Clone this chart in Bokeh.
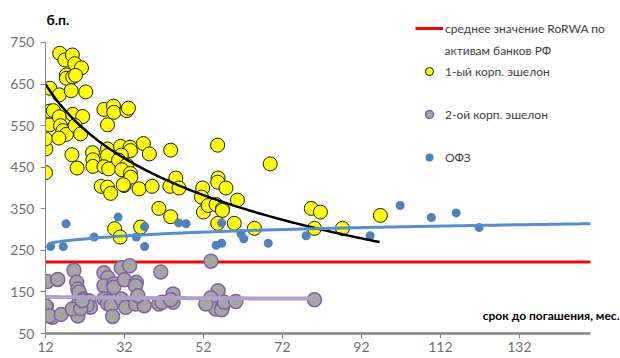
import numpy as np
from bokeh.plotting import figure
from bokeh.models import Range1d, FixedTicker, Legend, LegendItem, Label
from bokeh.embed import file_html
from bokeh.resources import INLINE

# ---- data ----
tier1_x = [12.0, 12.1, 12.0, 13.1, 13.1, 14.0, 13.1, 15.5, 15.5, 15.8, 16.4, 17.3, 15.4,
           15.6, 16.9, 18.8, 19.4, 21.1, 17.3, 17.3, 18.9, 19.6, 18.5, 22.2, 18.9, 21.4,
           19.5, 20.9, 18.7, 20.0, 23.9, 24.0, 24.0, 26.8, 29.2, 29.3, 32.6, 33.0, 27.7,
           27.7, 27.7, 26.8, 28.0, 31.0, 33.4, 33.5, 31.2, 30.5, 32.6, 31.3, 33.5, 26.1,
           27.7, 28.5, 31.9, 33.6, 35.7, 36.8, 38.3, 39.0, 40.7, 43.7, 43.7, 43.5, 45.0,
           45.8, 29.5, 30.9, 36.1, 51.8, 51.5, 52.0, 53.2, 55.2, 56.8, 56.8, 55.6, 55.7,
           55.6, 57.7, 60.6, 55.6, 59.8, 64.9, 68.9, 79.3, 81.6, 80.1, 87.2, 96.8, 31.7]
tier1_y = [437, 494, 518, 552, 585, 586, 640, 624, 571, 550, 538, 529, 520,
           724, 708, 720, 699, 689, 672, 664, 667, 671, 634, 631, 577, 572,
           550, 530, 480, 448, 485, 468, 452, 589, 597, 582, 586, 592, 552,
           494, 478, 451, 446, 500, 498, 490, 479, 467, 455, 444, 435, 404,
           402, 387, 406, 426, 398, 507, 482, 404, 351, 331, 491, 404, 424,
           400, 302, 282, 306, 400, 378, 342, 358, 360, 350, 346, 503, 424,
           414, 400, 371, 315, 315, 303, 458, 351, 342, 303, 303, 334, 408]

tier2_x = [12.4, 15.1, 12.2, 12.0, 13.7, 13.0, 16.0, 19.2, 19.9, 20.2, 20.5, 21.6, 20.2,
           20.2, 18.8, 23.0, 23.4, 26.8, 27.8, 26.8, 29.3, 29.3, 26.8, 27.8, 27.7, 28.6,
           29.0, 31.2, 33.3, 32.0, 31.2, 32.3, 35.0, 34.8, 35.2, 34.8, 37.0, 35.4, 41.2,
           40.7, 41.5, 44.3, 44.3, 43.7, 53.4, 53.9, 55.7, 53.9, 55.1, 55.1, 56.8, 52.6,
           56.6, 57.3, 60.2, 80.1, 22.5, 20.9, 21.3]
tier2_y = [175, 180, 115, 117, 89, 92, 96, 202, 173, 157, 150, 133, 119,
           92, 109, 129, 113, 196, 184, 165, 169, 161, 133, 128, 122, 117,
           91, 208, 213, 179, 133, 113, 173, 165, 137, 121, 117, 141, 198,
           121, 125, 145, 125, 131, 123, 224, 153, 136, 121, 109, 113, 121,
           107, 125, 127, 131, 118, 110, 129]

ofz_x = [13.3, 16.5, 17.2, 24.3, 30.4, 35.0, 37.1, 37.1, 45.7, 47.6, 55.2, 56.6, 56.6,
         61.5, 62.2, 68.4, 78.0, 94.2, 101.8, 109.7, 116.0, 121.8]
ofz_y = [259, 259, 314, 282, 330, 282, 307, 259, 316, 314, 262, 267, 316,
         290, 278, 267, 285, 285, 358, 329, 340, 305]

rorwa_x = [12, 150]
rorwa_y = [222, 222]

# logarithmic trend lines: values read at their two ends
tier1_trend_x = [12, 96.6]
tier1_trend_y = [650, 270]
tier2_trend_x = [12, 80.1]
tier2_trend_y = [138, 134]
ofz_trend_x = [13.3, 150]
ofz_trend_y = [268, 314]

x_ticks = [12, 32, 52, 72, 92, 112, 132]
y_ticks = [50, 150, 250, 350, 450, 550, 650, 750]
x_bounds = (12, 150)
y_bounds = (50, 750)

FONT = "Lato"


def log_curve(xs, ys, n=120):
    b = (ys[1] - ys[0]) / (np.log(xs[1]) - np.log(xs[0]))
    a = ys[0] - b * np.log(xs[0])
    xx = np.linspace(xs[0], xs[1], n)
    return xx, a + b * np.log(xx)


p = figure(width=620, height=358, output_backend="svg", toolbar_location=None,
           x_range=Range1d(12, 157.6), y_range=Range1d(50, 851),
           min_border_left=45, min_border_right=0, min_border_top=0, min_border_bottom=25)
p.outline_line_color = None
p.xgrid.visible = False
p.ygrid.visible = False
p.background_fill_color = "white"
p.border_fill_color = "white"

r_red = p.line(rorwa_x, rorwa_y, line_color="#FF0000", line_width=3)
r_y = p.scatter(tier1_x, tier1_y, marker="circle", size=14, fill_color="#FFFF00",
                line_color="#1a1a1a", line_width=1)
r_g = p.scatter(tier2_x, tier2_y, marker="circle", size=14, fill_color="#A5A5A5",
                line_color="#8064A2", line_width=1.5)
r_b = p.scatter(ofz_x, ofz_y, marker="circle", size=9, fill_color="#4F81BD", line_color=None)

tx, ty = log_curve(tier1_trend_x, tier1_trend_y)
p.line(tx, ty, line_color="black", line_width=2.5)
tx, ty = log_curve(tier2_trend_x, tier2_trend_y)
p.line(tx, ty, line_color="#B3A2C7", line_width=4)
tx, ty = log_curve(ofz_trend_x, ofz_trend_y)
p.line(tx, ty, line_color="#558ED5", line_width=3)

for ax in (p.xaxis[0], p.yaxis[0]):
    ax.axis_line_color = "#868686"
    ax.major_tick_line_color = "#868686"
    ax.minor_tick_line_color = None
    ax.major_tick_in = 0
    ax.major_tick_out = 5
    ax.major_label_text_color = "#707070"
    ax.major_label_text_font = FONT
    ax.major_label_text_font_size = "14px"

p.xaxis[0].ticker = FixedTicker(ticks=x_ticks)
p.yaxis[0].ticker = FixedTicker(ticks=y_ticks)
p.xaxis[0].bounds = x_bounds
p.yaxis[0].bounds = y_bounds
p.xaxis[0].axis_line_width = 2.5
p.yaxis[0].axis_line_width = 1
p.xaxis[0].major_label_standoff = 3
p.yaxis[0].major_label_standoff = 6

legend = Legend(items=[
    LegendItem(label="среднее значение RoRWA по", renderers=[r_red]),
    LegendItem(label="1-ый корп. эшелон", renderers=[r_y]),
    LegendItem(label="2-ой корп. эшелон", renderers=[r_g]),
    LegendItem(label="ОФЗ", renderers=[r_b]),
], location=(370, 166), padding=0, margin=0, spacing=23,
    glyph_width=28, glyph_height=20, label_height=20, label_standoff=2,
    label_text_font=FONT, label_text_font_size="12px", label_text_color="#404040",
    border_line_color=None, background_fill_alpha=0)
p.add_layout(legend)

p.add_layout(Label(x=399, y=283, x_units="screen", y_units="screen", text="активам банков РФ",
                   text_font=FONT, text_font_size="12px", text_color="#404040",
                   text_baseline="middle"))
p.add_layout(Label(x=1, y=306, x_units="screen", y_units="screen", text="б.п.",
                   text_font=FONT, text_font_size="14px", text_font_style="bold",
                   text_color="black"))
p.add_layout(Label(x=574, y=11, x_units="screen", y_units="screen",
                   text="срок до погашения, мес.", text_align="right",
                   text_font=FONT, text_font_size="12px", text_font_style="bold",
                   text_color="black"))

open("out.html", "w").write(file_html(p, INLINE))
